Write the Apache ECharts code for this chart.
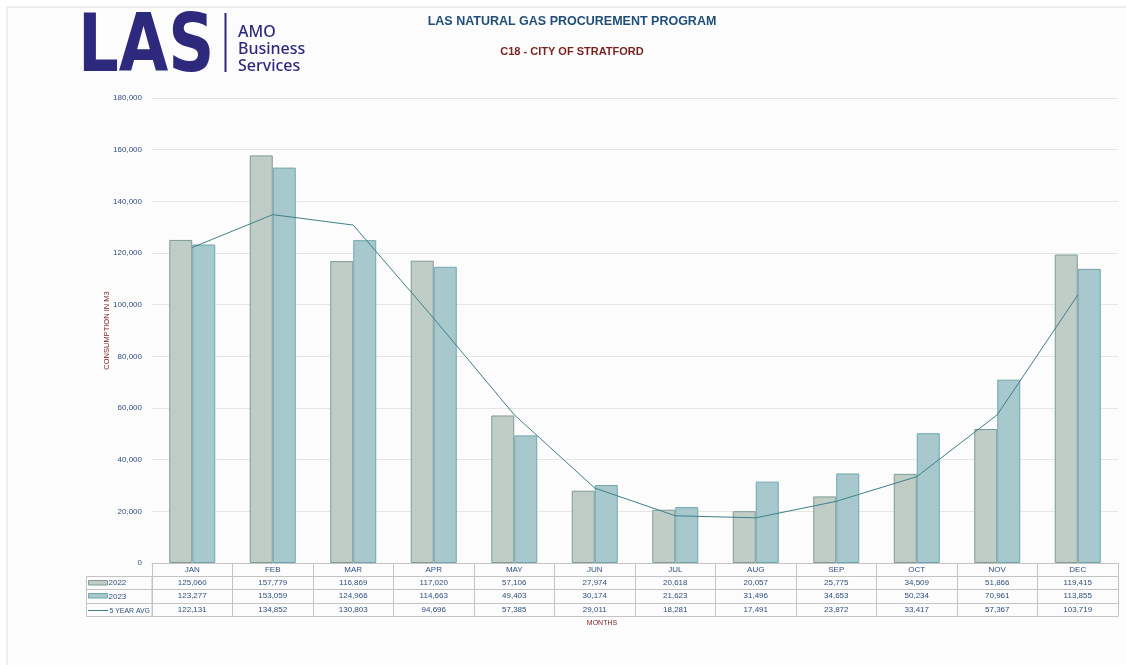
<!DOCTYPE html>
<html>
<head>
<meta charset="utf-8">
<script src="https://cdn.jsdelivr.net/npm/echarts@6/dist/echarts.min.js"></script>
<style>
html,body{margin:0;padding:0;background:#fff;}
#c{width:1126px;height:665px;}
</style>
</head>
<body>
<div id="c"></div>
<script>
// ---- data ----
const months = ['JAN','FEB','MAR','APR','MAY','JUN','JUL','AUG','SEP','OCT','NOV','DEC'];
const y2022 = [125060,157779,116869,117020,57106,27974,20618,20057,25775,34509,51866,119415];
const y2023 = [123277,153059,124966,114663,49403,30174,21623,31496,34653,50234,70961,113855];
const avg5  = [122131,134852,130803,94696,57385,29011,18281,17491,23872,33417,57367,103719];
const seriesNames = ['2022','2023','5 YEAR AVG'];
const yMin = 0, yMax = 180000, yStep = 20000;

const fmt = v => v.toLocaleString('en-US');
const txtBlue = '#2f4f7f';
const darkRed = '#7a1f1f';
const border = '#c4c4c4';
const c2022 = '#bfcdc6', b2022 = '#7f9b93';
const c2023 = '#a7c9cd', b2023 = '#6fa6ad';
const cLine = '#3f8088';
const tblFont = 'Liberation Sans, Arial, sans-serif';

function tableAxis(data, offset, opts) {
  opts = opts || {};
  return {
    type: 'category', gridIndex: 0, position: 'bottom', offset: offset,
    data: data, boundaryGap: true,
    axisLine: { show: true, lineStyle: { color: border, width: 1 } },
    axisTick: { show: opts.tick !== false, interval: 0, length: opts.tickLen || 13, inside: false, lineStyle: { color: border, width: 1 } },
    axisLabel: { show: opts.label !== false, interval: 0, margin: 3, fontSize: 8, color: txtBlue, fontFamily: tblFont },
    splitLine: { show: false }
  };
}

const chart = echarts.init(document.getElementById('c'));
chart.setOption({
  backgroundColor: '#ffffff',
  animation: false,
  grid: { left: 152, right: 8, top: 98, bottom: 102, containLabel: false },
  xAxis: [
    tableAxis(months, 0, { tickLen: 13 }),
    tableAxis(y2022.map(fmt), 13, { tickLen: 13 }),
    tableAxis(y2023.map(fmt), 26, { tickLen: 14 }),
    tableAxis(avg5.map(fmt), 40, { tickLen: 13 }),
    tableAxis(months, 53, { tick: false, label: false })
  ],
  yAxis: {
    type: 'value', min: yMin, max: yMax, interval: yStep,
    name: 'CONSUMPTION IN M3', nameLocation: 'middle', nameRotate: 90, nameGap: 41,
    nameMoveOverlap: false,
    nameTextStyle: { color: darkRed, fontSize: 7.5, fontFamily: tblFont },
    axisLine: { show: false }, axisTick: { show: false },
    axisLabel: { margin: 10, fontSize: 8, color: txtBlue, fontFamily: tblFont, formatter: v => fmt(v) },
    splitLine: { show: true, lineStyle: { color: '#e6e6e6', width: 1 } }
  },
  series: [
    { name: seriesNames[0], type: 'bar', data: y2022, barWidth: 23, barGap: '0%',
      itemStyle: { color: c2022, borderColor: b2022, borderWidth: 1 } },
    { name: seriesNames[1], type: 'bar', data: y2023, barWidth: 23, barGap: '0%',
      itemStyle: { color: c2023, borderColor: b2023, borderWidth: 1 } },
    { name: seriesNames[2], type: 'line', data: avg5, symbol: 'none', z: 5,
      lineStyle: { color: cLine, width: 1 } }
  ],
  graphic: [
    // page background & border
    { type: 'rect', z: -100, silent: true, shape: { x: 7, y: 7, width: 1130, height: 670 },
      style: { fill: '#fcfcfc', stroke: '#dedede', lineWidth: 1 } },
    // logo
    { type: 'text', left: 78, top: 9, scaleX: 0.79,
      style: { text: 'LAS', fill: '#2d2a7e', font: 'bold 81px "DejaVu Sans", sans-serif' } },
    { type: 'rect', shape: { x: 224.5, y: 13, width: 2, height: 59 }, style: { fill: '#2d2a7e' } },
    { type: 'text', left: 238, top: 24,
      style: { text: 'AMO\nBusiness\nServices', fill: '#2d2a7e', lineHeight: 17, font: '500 16px "Noto Sans", sans-serif' } },
    // titles
    { type: 'text', x: 572, y: 22,
      style: { text: 'LAS NATURAL GAS PROCUREMENT PROGRAM', align: 'center', verticalAlign: 'middle', fill: '#1f4e79', font: 'bold 12.5px "Liberation Sans", Arial, sans-serif' } },
    { type: 'text', x: 572, y: 52,
      style: { text: 'C18 - CITY OF STRATFORD', align: 'center', verticalAlign: 'middle', fill: darkRed, font: 'bold 11px "Liberation Sans", Arial, sans-serif' } },
    // table left column
    { type: 'rect', shape: { x: 86.5, y: 576.5, width: 65.5, height: 40 }, style: { fill: 'none', stroke: border, lineWidth: 1 } },
    { type: 'line', shape: { x1: 86.5, y1: 589.5, x2: 152, y2: 589.5 }, style: { stroke: border, lineWidth: 1 } },
    { type: 'line', shape: { x1: 86.5, y1: 603.5, x2: 152, y2: 603.5 }, style: { stroke: border, lineWidth: 1 } },
    { type: 'rect', shape: { x: 88.5, y: 580.5, width: 19, height: 4.5 }, style: { fill: c2022, stroke: b2022, lineWidth: 1 } },
    { type: 'rect', shape: { x: 88.5, y: 593.5, width: 19, height: 4.5 }, style: { fill: c2023, stroke: b2023, lineWidth: 1 } },
    { type: 'line', shape: { x1: 88, y1: 610.5, x2: 108, y2: 610.5 }, style: { stroke: cLine, lineWidth: 1 } },
    { type: 'text', x: 108.5, y: 583, style: { text: seriesNames[0], verticalAlign: 'middle', fill: txtBlue, font: '8px "Liberation Sans", Arial, sans-serif' } },
    { type: 'text', x: 108.5, y: 596.5, style: { text: seriesNames[1], verticalAlign: 'middle', fill: txtBlue, font: '8px "Liberation Sans", Arial, sans-serif' } },
    { type: 'text', x: 109.5, y: 610.5, scaleX: 0.86, style: { text: seriesNames[2], verticalAlign: 'middle', fill: txtBlue, font: '8px "Liberation Sans", Arial, sans-serif' } },
    // x axis title
    { type: 'text', x: 602, y: 623, style: { text: 'MONTHS', align: 'center', verticalAlign: 'middle', fill: darkRed, font: '7px "Liberation Sans", Arial, sans-serif' } }
  ]
});
</script>
</body>
</html>
